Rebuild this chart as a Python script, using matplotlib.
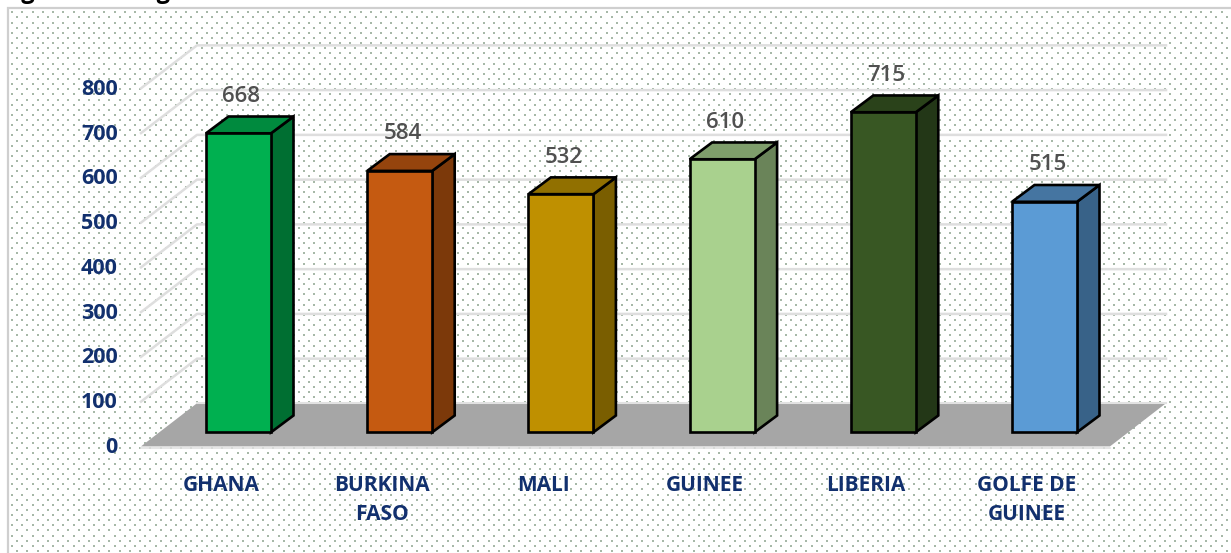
#!/usr/bin/env python3

import matplotlib
matplotlib.use('Agg')
import matplotlib.pyplot as plt
import numpy as np

W, H = 1231, 553

title = "Figure 1 : Longueur des frontières terrestres et maritimes de la Côte d'Ivoire"
categories = ['GHANA', 'BURKINA\nFASO', 'MALI', 'GUINEE', 'LIBERIA', 'GOLFE DE\nGUINEE']
values = [668, 584, 532, 610, 715, 515]
y_ticks = [0, 100, 200, 300, 400, 500, 600, 700, 800]

front_colors = ['#00b050', '#c55a11', '#bf9000', '#a9d18e', '#385723', '#5b9bd5']
top_colors = ['#008a3e', '#95440d', '#917000', '#7f9e6b', '#2a421a', '#4575a1']
side_colors = ['#006f32', '#7c390a', '#7a5e00', '#6a8459', '#233717', '#386288']

navy = '#12306e'

# pixels per unit, and where the front of the bars sits
px_per_cat = 161.2
px_per_val = 0.4476
x0_px = 238.5
y0_px = 432.3
bar_w = 65 / px_per_cat
bar_dx = 22.5 / px_per_cat
bar_dy = 16.8 / px_per_val

fig = plt.figure(figsize=(W / 100, H / 100), dpi=100)

# background in pixel coordinates: dots, frame, clipped title
bg = fig.add_axes([0, 0, 1, 1])
bg.set_xlim(0, W)
bg.set_ylim(H, 0)
bg.axis('off')
dots_x = []
dots_y = []
for j in range(106):
    y = 12.3 + 5.13 * j
    shift = 5.1 if j % 2 else 0
    for k in range(120):
        dots_x.append(12 + shift + 10.25 * k)
        dots_y.append(y)
bg.scatter(dots_x, dots_y, s=0.8, marker='s', color='#5f7f62', linewidths=0, alpha=0.55)
bg.plot([7.5, 7.5, W], [H, 8, 8], color='#cfcfcf', lw=1.6, solid_joinstyle='miter')
bg.text(1, -1.5, title, fontsize=17, fontweight='bold', family='Open Sans', color='black',
        ha='left', va='baseline', clip_on=False)

# chart axes: x in category index, y in km
ax = fig.add_axes([0, 0, 1, 1])
ax.patch.set_alpha(0)
ax.set_xlim(-x0_px / px_per_cat, (W - x0_px) / px_per_cat)
ax.set_ylim((y0_px - H) / px_per_val, y0_px / px_per_val)
ax.axis('off')

# floor and walls
floor_front = -31.5
floor_back = 65
left = (141 - x0_px) / px_per_cat
right = (1110 - x0_px) / px_per_cat
wall_dx = 56 / px_per_cat
ax.fill([left, right, right + wall_dx, left + wall_dx],
        [floor_front, floor_front, floor_back, floor_back], color='#a6a6a6', lw=0, zorder=2)
ax.plot([left, right], [floor_front - 2.5, floor_front - 2.5], color='#e2e2e2', lw=1.2, zorder=2)
ax.plot([left + wall_dx, right + wall_dx], [floor_back, floor_back], color='#e2e2e2', lw=1.5, zorder=2)

for v in y_ticks[1:]:
    ax.plot([left, left + wall_dx, right + wall_dx],
            [v + floor_front, v + floor_back - 0.5, v + floor_back - 0.5],
            color='#dedede', lw=1.8, zorder=1)

for v in y_ticks:
    ax.text(left - 23 / px_per_cat, v + floor_front - 1 / px_per_val, str(v), color=navy, fontsize=15.5,
            fontweight='bold', family='Open Sans', ha='right', va='center', zorder=5)

# bars
xs = np.arange(len(values))
ax.bar(xs, values, width=bar_w, color=front_colors, edgecolor='black', linewidth=1.9, zorder=4)
for i, v in enumerate(values):
    xl = i - bar_w / 2
    xr = i + bar_w / 2
    ax.fill([xr, xr + bar_dx, xr + bar_dx, xr], [0, bar_dy, v + bar_dy, v],
            facecolor=side_colors[i], edgecolor='black', lw=1.9, zorder=3)
    ax.fill([xl, xr, xr + bar_dx, xl + bar_dx], [v, v, v + bar_dy, v + bar_dy],
            facecolor=top_colors[i], edgecolor='black', lw=1.9, zorder=3)
    ax.text(i + 3 / px_per_cat, v + 37 / px_per_val, str(v), color='#505050', fontsize=16,
            fontweight='semibold', family='Open Sans', ha='center', va='center', zorder=5)
    ax.text(i - 17.5 / px_per_cat, -43 / px_per_val, categories[i], color=navy, fontsize=15,
            fontweight='bold', family='Open Sans', ha='center', va='top', linespacing=1.5, zorder=5)

fig.savefig('out.png', dpi=100)
